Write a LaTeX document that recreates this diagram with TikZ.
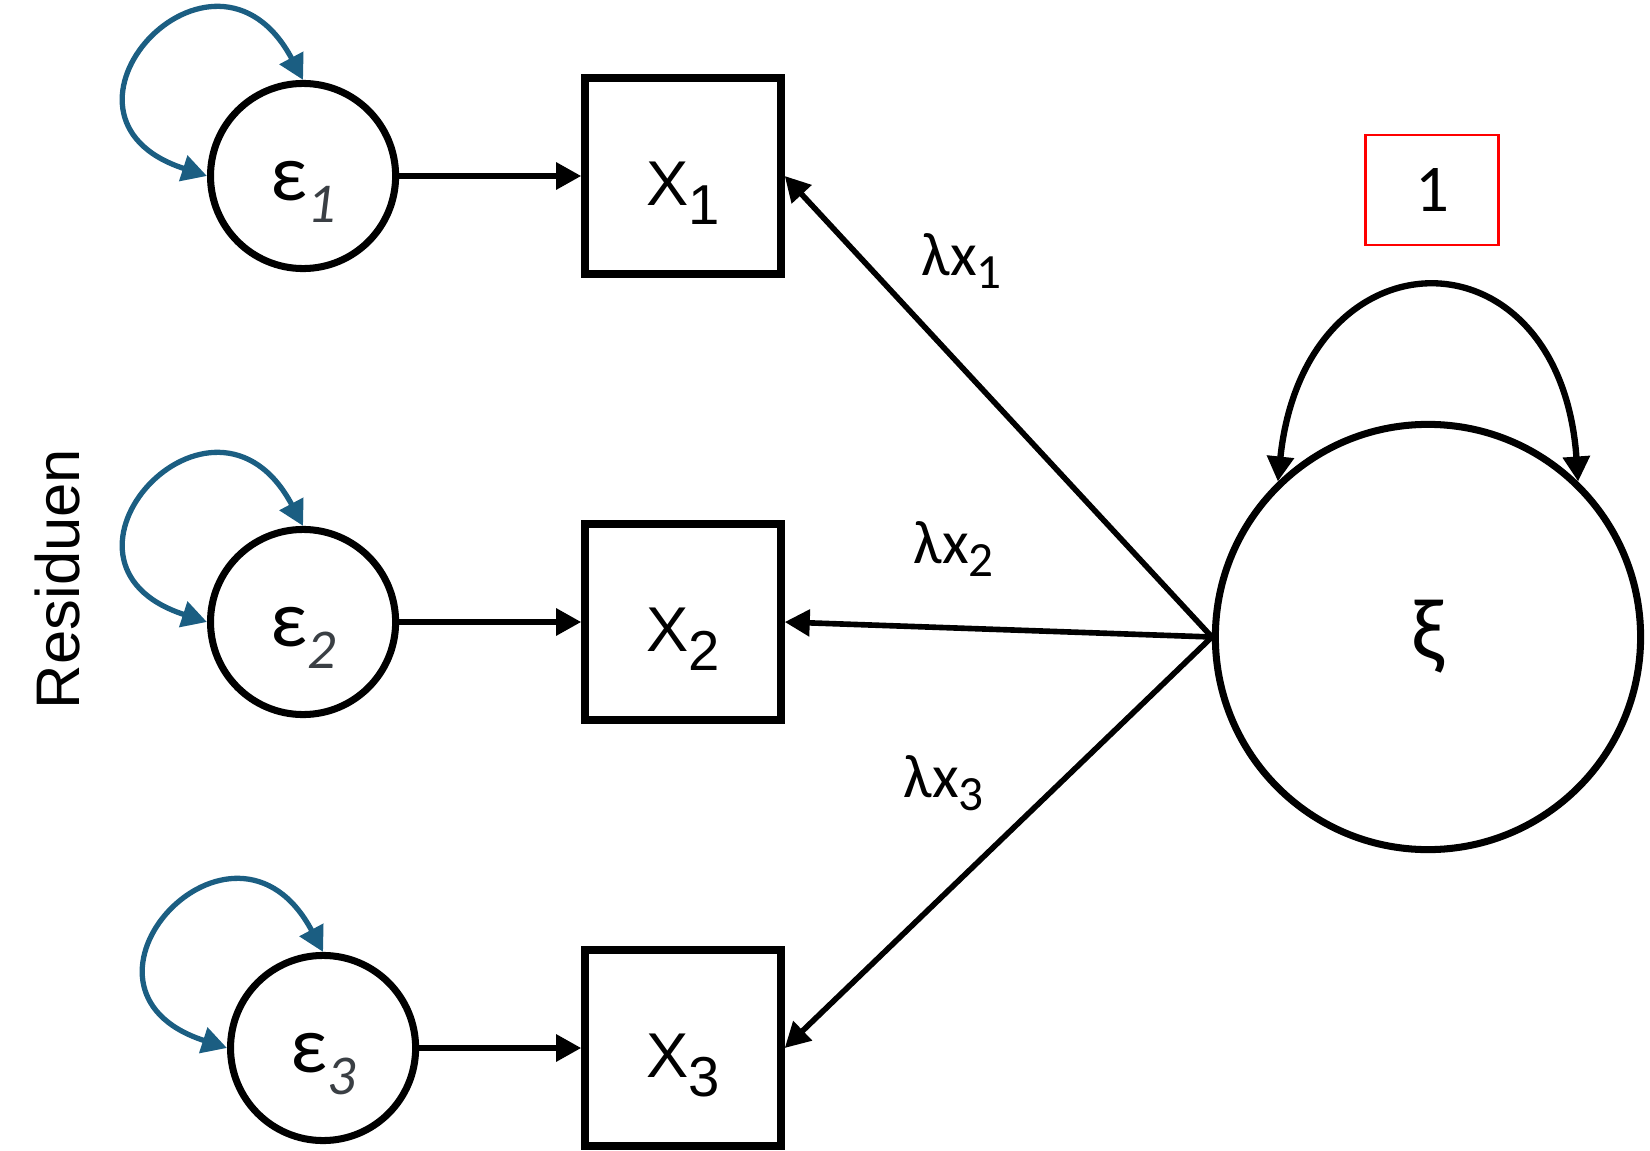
\documentclass[tikz,border=0pt]{standalone}
\usepackage{fontspec}
\setmainfont{Carlito}
\newfontfamily\arialfont{Liberation Sans}
\usepackage{tikz}
\usetikzlibrary{positioning, arrows.meta}
\definecolor{loopblue}{HTML}{1B5E82}
\definecolor{subgray}{HTML}{3A3F44}
\definecolor{constred}{HTML}{FF0000}
\newcommand{\epsub}[1]{\raisebox{-0.27em}[0pt][0pt]{\fontsize{16}{16}\selectfont\itshape\color{subgray}#1}}
\newcommand{\xsub}[1]{\raisebox{-0.3em}[0pt][0pt]{\fontsize{16}{16}\selectfont #1}}
\newcommand{\lamsub}[1]{\raisebox{-0.22em}{\fontsize{14}{14}\selectfont #1}}

\begin{document}
\begin{tikzpicture}[
  x=0.01cm, y=0.01cm,
  >={Triangle[length=0.25cm, width=0.26cm]},
  latent/.style={
    circle, draw, line width=2pt, minimum size=1.85cm, inner sep=0pt,
    font=\fontsize{23}{26}\selectfont
  },
  resid/.style={latent, text height=14pt},
  factor/.style={latent, minimum size=4.25cm, font=\fontsize{25}{28}\selectfont},
  manifest/.style={
    rectangle, draw, line width=2.1pt, minimum size=1.96cm, inner sep=0pt,
    text height=17pt, font=\arialfont\fontsize{18}{21}\selectfont
  },
  constbox/.style={
    rectangle, draw=constred, line width=0.8pt,
    minimum width=1.33cm, minimum height=1.1cm,
    font=\fontsize{19}{22}\selectfont
  },
  loading/.style={->, line width=1.6pt},
  varloop/.style={<->, line width=1.5pt, color=loopblue,
    out=118, in=162, looseness=3.6},
  lambda/.style={font=\fontsize{17.5}{20}\selectfont, anchor=base west, inner sep=0pt},
]
\useasboundingbox (0,0) rectangle (1650,1150);

% --- Indicators ---
\node[manifest] (x1) at (683,974) {X\xsub{1}};
\node[manifest] (x2) at (683,528) {X\xsub{2}};
\node[manifest] (x3) at (683,102) {X\xsub{3}};

% --- Residuals ---
\node[resid, left=1.82cm of x1] (e1) {ε\epsub{1}};
\node[resid, left=1.82cm of x2] (e2) {ε\epsub{2}};
\node[resid, left=1.62cm of x3] (e3) {ε\epsub{3}};
\node[rotate=90, font=\arialfont\fontsize{17.5}{20}\selectfont] (residuen)
  at (58,571) {Residuen};

% --- Factor ---
\node[factor] (xi) at (1428,513) {ξ};
\node[constbox] (one) at (1432,960) {1};

% --- Loadings ---
\node[lambda] (lam1) at (921,875) {λx\lamsub{1}};
\node[lambda] (lam2) at (913,587) {λx\lamsub{2}};
\node[lambda] (lam3) at (903,353) {λx\lamsub{3}};

% --- Arrows ---
\draw[loading] (xi.west) -- (x1.east);
\draw[loading] (xi.west) -- (x2.east);
\draw[loading] (xi.west) -- (x3.east);
\draw[loading] (e1.east) -- (x1.west);
\draw[loading] (e2.east) -- (x2.west);
\draw[loading] (e3.east) -- (x3.west);

% --- Variances ---
\draw[varloop] (e1.north) to (e1.west);
\draw[varloop] (e2.north) to (e2.west);
\draw[varloop] (e3.north) to (e3.west);
\draw[loading, <->, line width=1.8pt] (xi.134) to[out=84, in=94, looseness=2.2] (xi.46);

\end{tikzpicture}
\end{document}
